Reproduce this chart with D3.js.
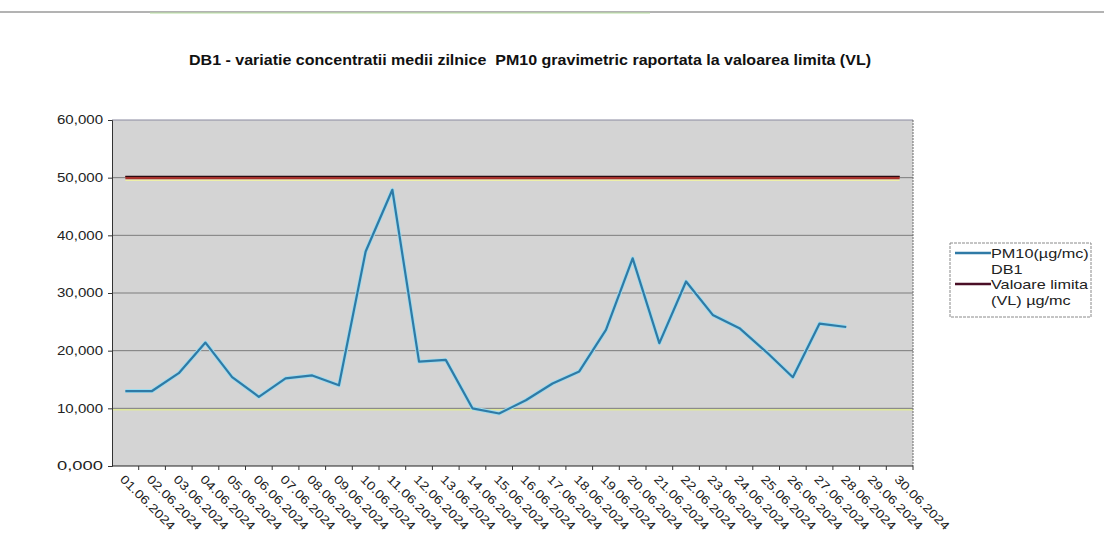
<!DOCTYPE html>
<html>
<head>
<meta charset="utf-8">
<script src="https://cdn.jsdelivr.net/npm/d3@7"></script>
<style>
  body { margin: 0; background: #fff; }
  svg { display: block; font-family: "Liberation Sans", Arial, sans-serif; }
</style>
</head>
<body>
<div id="chart"></div>
<script>
// daily values (µg/mc)
var dates = [
  "01.06.2024", "02.06.2024", "03.06.2024", "04.06.2024", "05.06.2024",
  "06.06.2024", "07.06.2024", "08.06.2024", "09.06.2024", "10.06.2024",
  "11.06.2024", "12.06.2024", "13.06.2024", "14.06.2024", "15.06.2024",
  "16.06.2024", "17.06.2024", "18.06.2024", "19.06.2024", "20.06.2024",
  "21.06.2024", "22.06.2024", "23.06.2024", "24.06.2024", "25.06.2024",
  "26.06.2024", "27.06.2024", "28.06.2024", "29.06.2024", "30.06.2024"
];
var pm10 = [
  13.0, 13.0, 16.1, 21.4, 15.4, 12.0, 15.2, 15.7, 14.0, 37.2,
  47.9, 18.1, 18.4, 10.0, 9.1, 11.4, 14.3, 16.4, 23.6, 36.0,
  21.3, 32.0, 26.2, 23.9, 19.8, 15.4, 24.7, 24.1, null, null
];
var limita = 50;
var yTicks = [0, 10, 20, 30, 40, 50, 60];

var width = 1104, height = 560;
var plot = {left: 112, right: 913, top: 120, bottom: 466};

var svg = d3.select("#chart").append("svg")
    .attr("width", width)
    .attr("height", height);

// scanned page rule at the top
svg.append("line")
    .attr("x1", 0).attr("x2", width)
    .attr("y1", 12).attr("y2", 12)
    .attr("stroke", "#9a9a9a").attr("stroke-width", 1.5);
svg.append("line")
    .attr("x1", 150).attr("x2", 650)
    .attr("y1", 13).attr("y2", 13)
    .attr("stroke", "#b8e0a0").attr("stroke-width", 1);

svg.append("text")
    .attr("x", 530).attr("y", 65)
    .attr("text-anchor", "middle")
    .attr("font-size", 15)
    .attr("font-weight", "bold")
    .attr("fill", "#111")
    .attr("textLength", 682)
    .attr("lengthAdjust", "spacingAndGlyphs")
    .style("white-space", "pre")
    .text("DB1 - variatie concentratii medii zilnice  PM10 gravimetric raportata la valoarea limita (VL)");

var x = d3.scaleBand()
    .domain(dates)
    .range([plot.left, plot.right]);

var y = d3.scaleLinear()
    .domain([0, 60])
    .range([plot.bottom, plot.top]);

var cx = function(d) { return x(d) + x.bandwidth() / 2; };

// plot area
svg.append("rect")
    .attr("x", plot.left).attr("y", plot.top)
    .attr("width", plot.right - plot.left)
    .attr("height", plot.bottom - plot.top)
    .attr("fill", "#d4d4d4");

// gridlines
svg.append("g")
  .selectAll("line")
  .data(yTicks.filter(function(t) { return t > 0 && t < 60; }))
  .enter().append("line")
    .attr("x1", plot.left).attr("x2", plot.right)
    .attr("y1", function(d) { return y(d); })
    .attr("y2", function(d) { return y(d); })
    .attr("stroke", "#7c7c7c").attr("stroke-width", 1);

// yellowish fringe under the 10 gridline (scan colour shift)
svg.append("line")
    .attr("x1", plot.left).attr("x2", plot.right)
    .attr("y1", y(10) + 1.5).attr("y2", y(10) + 1.5)
    .attr("stroke", "#dfe89a").attr("stroke-width", 1.5);

// frame
svg.append("line")
    .attr("x1", plot.left).attr("x2", plot.right)
    .attr("y1", plot.top).attr("y2", plot.top)
    .attr("stroke", "#8a8aa0").attr("stroke-width", 1.2);
svg.append("line")
    .attr("x1", plot.right).attr("x2", plot.right)
    .attr("y1", plot.top).attr("y2", plot.bottom)
    .attr("stroke", "#6a6a6a").attr("stroke-width", 1)
    .attr("stroke-dasharray", "2,1");

// y axis
var yAxis = d3.axisLeft(y)
    .tickValues(yTicks)
    .tickSize(4)
    .tickFormat(function(d) { return d3.format(".3f")(d).replace(".", ","); });
var gy = svg.append("g")
    .attr("transform", "translate(" + plot.left + ",0)")
    .call(yAxis);
gy.select(".domain").attr("stroke", "#333");
gy.selectAll(".tick line").attr("stroke", "#333");
gy.selectAll(".tick text")
    .attr("x", -9)
    .attr("font-size", 12)
    .attr("font-family", "Liberation Sans, Arial, sans-serif")
    .attr("textLength", 46)
    .attr("lengthAdjust", "spacingAndGlyphs")
    .attr("fill", "#222");

// x axis: ticks sit between categories
var gx = svg.append("g")
    .attr("transform", "translate(0," + plot.bottom + ")");
gx.append("line")
    .attr("x1", plot.left).attr("x2", plot.right)
    .attr("stroke", "#222").attr("stroke-width", 1.2);
gx.selectAll("line.tk")
  .data(dates)
  .enter().append("line")
    .attr("class", "tk")
    .attr("x1", function(d) { return x(d) + x.bandwidth(); })
    .attr("x2", function(d) { return x(d) + x.bandwidth(); })
    .attr("y1", 0).attr("y2", 4)
    .attr("stroke", "#333");
gx.selectAll("text")
  .data(dates)
  .enter().append("text")
    .attr("transform", function(d) {
      return "translate(" + (cx(d) - 6) + ",14) rotate(45)";
    })
    .attr("font-size", 12)
    .attr("textLength", 72)
    .attr("lengthAdjust", "spacingAndGlyphs")
    .attr("fill", "#222")
    .text(function(d) { return d; });

// limit line
var limitLine = d3.line()
    .x(function(d) { return cx(d); })
    .y(function() { return y(limita); });
svg.append("path")
    .datum(dates)
    .attr("d", limitLine)
    .attr("transform", "translate(0,2.5)")
    .attr("fill", "none").attr("stroke", "#eef0a8").attr("stroke-width", 1.5);
svg.append("path")
    .datum(dates)
    .attr("d", limitLine)
    .attr("fill", "none").attr("stroke", "#a8322c").attr("stroke-width", 3.2);
svg.append("path")
    .datum(dates)
    .attr("d", limitLine)
    .attr("transform", "translate(0,-1.3)")
    .attr("fill", "none").attr("stroke", "#2a0a10").attr("stroke-width", 1.2);

// PM10 line
var pmLine = d3.line()
    .defined(function(d) { return d[1] != null; })
    .x(function(d) { return cx(d[0]); })
    .y(function(d) { return y(d[1]); });
var pmData = dates.map(function(d, i) { return [d, pm10[i]]; });
svg.append("path")
    .datum(pmData)
    .attr("d", pmLine)
    .attr("fill", "none").attr("stroke", "#9fdcef").attr("stroke-width", 4)
    .attr("stroke-linejoin", "round");
svg.append("path")
    .datum(pmData)
    .attr("d", pmLine)
    .attr("fill", "none").attr("stroke", "#2f7aa6").attr("stroke-width", 2.2)
    .attr("stroke-linejoin", "round");

// legend
var lg = svg.append("g");
lg.append("rect")
    .attr("x", 950).attr("y", 243)
    .attr("width", 141).attr("height", 74)
    .attr("fill", "#fff")
    .attr("stroke", "#8a8a8a").attr("stroke-width", 1)
    .attr("stroke-dasharray", "3,1");
var legendItems = [
  {name: ["PM10(µg/mc)", "DB1"], color: "#2f7aa6"},
  {name: ["Valoare limita", "(VL) µg/mc"], color: "#4a0f26"}
];
legendItems.forEach(function(it, i) {
  var yy = 253 + i * 31;
  lg.append("line")
      .attr("x1", 955).attr("x2", 991)
      .attr("y1", yy).attr("y2", yy)
      .attr("stroke", it.color).attr("stroke-width", 2.5);
  it.name.forEach(function(t, j) {
    lg.append("text")
        .attr("transform", "translate(991," + (yy + 4.5 + j * 16) + ") scale(1.3,1)")
        .attr("font-size", 12.5)
        .attr("fill", "#222")
        .text(t);
  });
});
</script>
</body>
</html>
